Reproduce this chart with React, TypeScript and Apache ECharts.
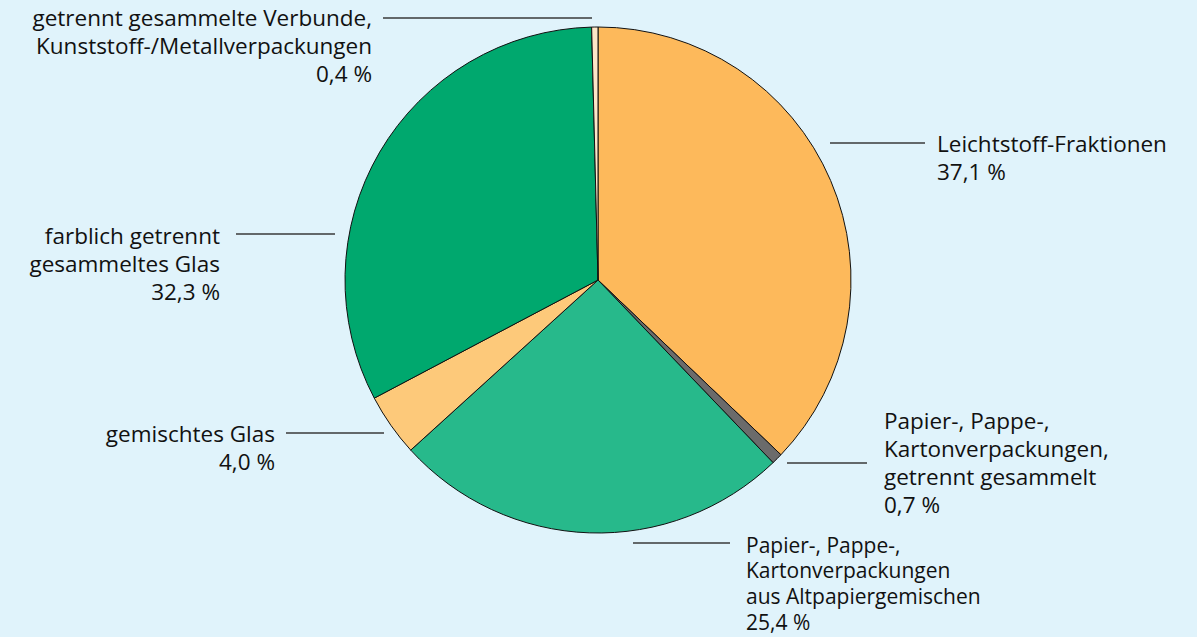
import React, { useEffect, useRef } from "react";
import * as echarts from "echarts";

const categories = [
  "Leichtstoff-Fraktionen",
  "Papier-, Pappe-,\nKartonverpackungen,\ngetrennt gesammelt",
  "Papier-, Pappe-,\nKartonverpackungen\naus Altpapiergemischen",
  "gemischtes Glas",
  "farblich getrennt\ngesammeltes Glas",
  "getrennt gesammelte Verbunde,\nKunststoff-/Metallverpackungen",
];
const values = [37.1, 0.7, 25.4, 4.0, 32.3, 0.4];
const valueLabels = ["37,1 %", "0,7 %", "25,4 %", "4,0 %", "32,3 %", "0,4 %"];
const colors = ["#FDB95B", "#6B6B6B", "#27B98B", "#FDC97A", "#00A86E", "#FDE6C8"];

// label anchor layout: [textX, textY(top), align, lineX1, lineX2, lineY, lineHeight, fontSize]
const labelPlaces: [number, number, "left" | "right", number, number, number, number, number][] = [
  [937, 129, "left", 830, 925, 143, 28, 22.5],
  [884, 406, "left", 787, 867, 463, 28, 22.5],
  [746, 532, "left", 633, 730, 543, 25.6, 21],
  [275, 419, "right", 384, 286, 433, 28, 22.5],
  [220, 221, "right", 335, 236, 234, 28, 22.5],
  [372, 3, "right", 592, 383, 18, 28, 22.5],
];

export default function App() {
  const ref = useRef<HTMLDivElement>(null);
  useEffect(() => {
    if (!ref.current) return;
    const chart = echarts.init(ref.current, null, { renderer: "svg" });
    chart.setOption({
      animation: false,
      backgroundColor: "#E0F3FB",
      series: [
        {
          type: "pie",
          center: [598, 280],
          radius: [0, 253],
          startAngle: 90,
          clockwise: true,
          avoidLabelOverlap: false,
          itemStyle: { borderColor: "#111", borderWidth: 1 },
          data: values.map((v, i) => ({
            name: categories[i],
            value: v,
            itemStyle: { color: colors[i] },
            label: { lineHeight: labelPlaces[i][6], fontSize: labelPlaces[i][7] },
          })),
          label: {
            show: true,
            formatter: (p: any) => categories[p.dataIndex] + "\n" + valueLabels[p.dataIndex],
            fontFamily: "Open Sans",
            fontSize: 22.5,
            lineHeight: 28,
            color: "#111",
          },
          labelLine: { show: true, lineStyle: { color: "#3a3a3a", width: 1.3 } },
          labelLayout: (params: any) => {
            const p = labelPlaces[params.dataIndex];
            return {
              x: p[0],
              y: p[1],
              align: p[2],
              verticalAlign: "top",
              labelLinePoints: [
                [p[3], p[5]],
                [p[4], p[5]],
                [p[4], p[5]],
              ],
            };
          },
          emphasis: { disabled: true },
        },
      ],
    });
    return () => chart.dispose();
  }, []);
  return (
    <div
      ref={ref}
      style={{ position: "fixed", left: 0, top: 0, width: "1197px", height: "637px" }}
    />
  );
}
